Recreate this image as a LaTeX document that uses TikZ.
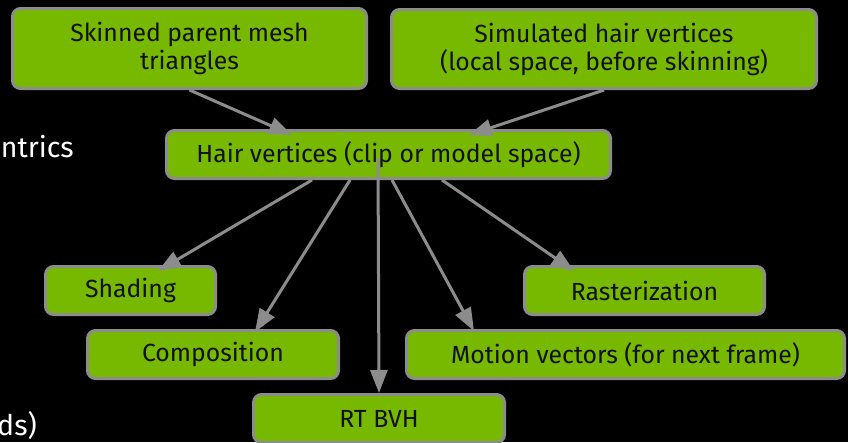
\documentclass[tikz,border=0pt]{standalone}
\usepackage{fontspec}
\setmainfont{Fira Sans}
\usetikzlibrary{arrows.meta,calc}

\definecolor{nvgreen}{HTML}{76B900}
\definecolor{edgegray}{HTML}{8C8C8C}
\definecolor{boxtext}{HTML}{111111}

\tikzset{
  stage/.style={draw=edgegray, line width=3pt, fill=nvgreen, rounded corners=8pt,
    inner sep=0pt, align=center, text=boxtext,
    font=\fontsize{24.8}{28}\selectfont},
  flow/.style={draw=edgegray, line width=3pt,
    -{Triangle[length=23pt,width=17pt]}},
  sidetext/.style={text=white, inner sep=0pt, font=\fontsize{28.5}{32}\selectfont}
}

\begin{document}
\begin{tikzpicture}[x=1pt,y=-1pt]
  \useasboundingbox (0,0) rectangle (848,442);
  \fill[black] (0,0) rectangle (848,442);
  \clip (0,0) rectangle (848,442);

  % fragments of surrounding slide text
  \node[sidetext, anchor=base east] (bary) at (74,157) {ntrics};
  \node[sidetext, anchor=base east] (bnds) at (37,435) {ds)};

  % source stages
  \node[stage, minimum width=354pt, minimum height=80pt] (skin) at (189.5,48.5)
    {Skinned parent mesh\\triangles};
  \node[stage, minimum width=425pt, minimum height=79pt] (sim) at (604,49)
    {Simulated hair vertices\\(local space, before skinning)};

  % central stage
  \node[stage, minimum width=444pt, minimum height=48pt] (hair) at (388.5,154.5)
    {Hair vertices (clip or model space)};

  % consumers
  \node[stage, minimum width=170pt, minimum height=48pt] (shade) at (130.5,290.5) {Shading};
  \node[stage, minimum width=251pt, minimum height=48pt] (comp) at (213,354.5) {Composition};
  \node[stage, minimum width=251pt, minimum height=48pt] (rt) at (379,418.5) {RT BVH};
  \node[stage, minimum width=240pt, minimum height=48pt] (rast) at (644.5,290.5) {Rasterization};
  \node[stage, minimum width=438pt, minimum height=48pt] (mv) at (625.5,354.5)
    {Motion vectors (for next frame)};

  % inputs to the central stage
  \draw[flow] (skin.south) -- ([xshift=-96.5pt,yshift=-6pt]hair.north);
  \draw[flow] (sim.south) -- ([xshift=80.5pt,yshift=-6pt]hair.north);

  % outputs of the central stage
  \draw[flow] ([xshift=-76.5pt]hair.south) -- ([xshift=27.5pt,yshift=-6pt]shade.north);
  \draw[flow] ([xshift=-38.5pt]hair.south) -- ([xshift=42pt,yshift=-3pt]comp.north);
  \draw[flow] ([xshift=-10.5pt,yshift=-3.5pt]hair.center) -- (rt.north);
  \draw[flow] ([xshift=3.5pt]hair.south) -- ([xshift=-151.5pt,yshift=-2pt]mv.north);
  \draw[flow] ([xshift=53.5pt]hair.south) -- ([xshift=-70.5pt,yshift=-6pt]rast.north);
\end{tikzpicture}
\end{document}
